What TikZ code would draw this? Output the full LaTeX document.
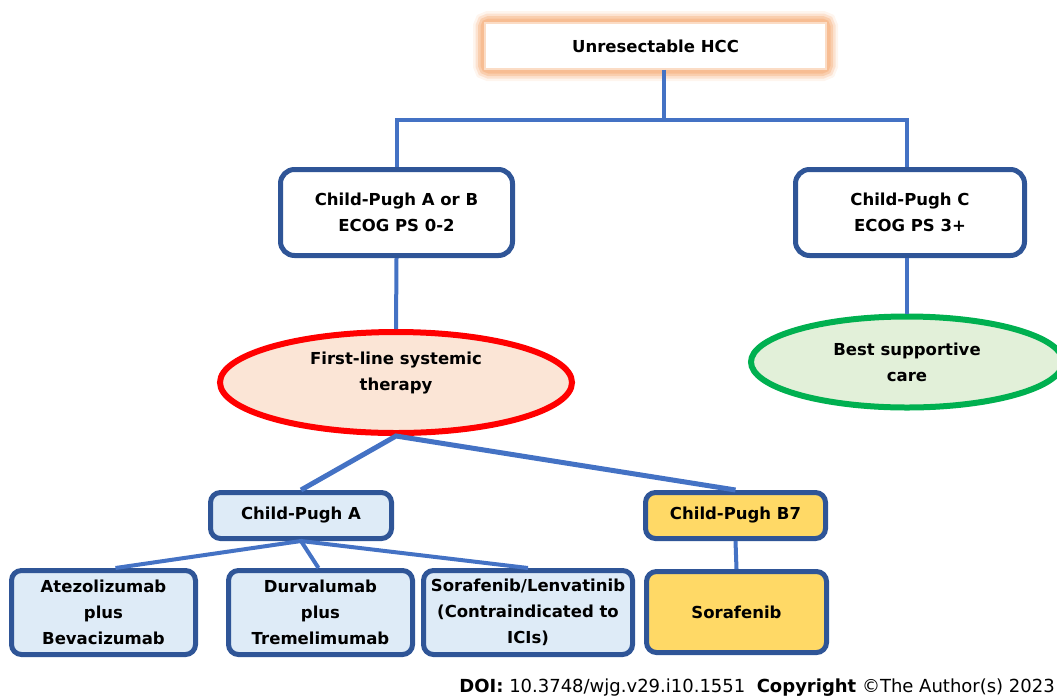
\documentclass[tikz,border=0pt]{standalone}
\usepackage{fontspec}
\setmainfont{DejaVu Sans}
\usetikzlibrary{shapes.geometric}
\definecolor{boxblue}{HTML}{2F5597}
\definecolor{lineblue}{HTML}{4472C4}
\definecolor{paleblue}{HTML}{DEEBF7}
\definecolor{paleorange}{HTML}{FBE5D6}
\definecolor{glow}{HTML}{F7B98C}
\definecolor{palegreen}{HTML}{E2F0D9}
\definecolor{okgreen}{HTML}{00B050}
\definecolor{gold}{HTML}{FFD966}
\tikzset{
  stagebox/.style={draw=boxblue, line width=5pt, rounded corners=14pt, fill=white,
    inner sep=0pt, align=center, font=\fontsize{16.5}{26}\selectfont\bfseries},
  drugbox/.style={stagebox, rounded corners=10pt, fill=paleblue},
  oval/.style={ellipse, line width=6pt, inner sep=0pt, align=center,
    font=\fontsize{16.5}{26}\selectfont\bfseries},
  link/.style={draw=lineblue, line width=4pt}
}
\begin{document}
\begin{tikzpicture}[x=1pt,y=-1pt]
  \useasboundingbox (0,0) rectangle (1057,697);
  %%%%%%%%%%%%%Top box with glow%%%%%%%%%%%%%%%%%%%%%%
  \foreach \w/\o in {24/0.15,19/0.3,14/0.5,9/0.8}
    \draw[glow, line width=\w pt, opacity=\o, rounded corners=4pt] (485,23) rectangle (826,69);
  \node[draw=glow!50, line width=1.5pt, fill=white, minimum width=341pt, minimum height=46pt,
    inner sep=0pt, font=\fontsize{16.5}{26}\selectfont\bfseries] (hcc) at (655.5,46) {Unresectable HCC};

  %%%%%%%%%%%%%Second level%%%%%%%%%%%%%%%%%%%%%%
  \node[stagebox, minimum width=232pt, minimum height=86pt] (ab) at (396.5,212.5)
    {Child-Pugh A or B\\ECOG PS 0-2};
  \node[stagebox, minimum width=229pt, minimum height=86pt] (cc) at (910,212.5)
    {Child-Pugh C\\ECOG PS 3+};
  \coordinate (split) at (664,120);
  \draw[link] (hcc.south -| split) -- (split);
  \draw[link] (ab.north) |- (split) -| (cc.north -| 907,0);

  %%%%%%%%%%%%%Ovals%%%%%%%%%%%%%%%%%%%%%%
  \node[oval, draw=red, fill=paleorange, minimum width=352pt, minimum height=101pt] (fl)
    at (396,382.5) {First-line systemic\\therapy\\[-4pt]};
  \node[oval, draw=okgreen, fill=palegreen, minimum width=312pt, minimum height=91pt] (bsc)
    at (907,362) {Best supportive\\care};
  \draw[link] (ab.south) -- (fl.north);
  \draw[link] (cc.south -| bsc.north) -- (bsc.north);

  %%%%%%%%%%%%%Child-Pugh split%%%%%%%%%%%%%%%%%%%%%%
  \node[drugbox, minimum width=181pt, minimum height=46pt] (cpa) at (301,515.5) {Child-Pugh A};
  \node[drugbox, fill=gold, minimum width=180pt, minimum height=46pt] (cpb) at (735.5,515.5)
    {Child-Pugh B7};
  \draw[link, line width=5pt] (cpa.north) -- (fl.south) -- (cpb.north);

  %%%%%%%%%%%%%Treatments%%%%%%%%%%%%%%%%%%%%%%
  \node[drugbox, minimum width=184pt, minimum height=84pt] (ate) at (103.5,612.5)
    {Atezolizumab\\plus\\Bevacizumab};
  \node[drugbox, minimum width=184pt, minimum height=84pt] (dur) at (320.5,612.5)
    {Durvalumab\\plus\\Tremelimumab};
  \node[drugbox, minimum width=209pt, minimum height=84pt] (sor) at (528,612.5)
    {Sorafenib/Lenvatinib\\(Contraindicated to\\ICIs)};
  \node[drugbox, fill=gold, minimum width=180pt, minimum height=81pt] (sorb) at (736.5,612)
    {Sorafenib};
  \draw[link] ([xshift=12pt]ate.north) -- (cpa.south) -- ([xshift=-2pt]dur.north);
  \draw[link] (cpa.south) -- (sor.north);
  \draw[link] (cpb.south) -- (sorb.north);

  %%%%%%%%%%%%%Footer%%%%%%%%%%%%%%%%%%%%%%
  \node[anchor=base east, inner sep=0pt, font=\fontsize{18}{20}\selectfont] (doi) at (1055,692)
    {\textbf{DOI:} 10.3748/wjg.v29.i10.1551\ \ \textbf{Copyright} ©The Author(s) 2023};
\end{tikzpicture}
\end{document}
